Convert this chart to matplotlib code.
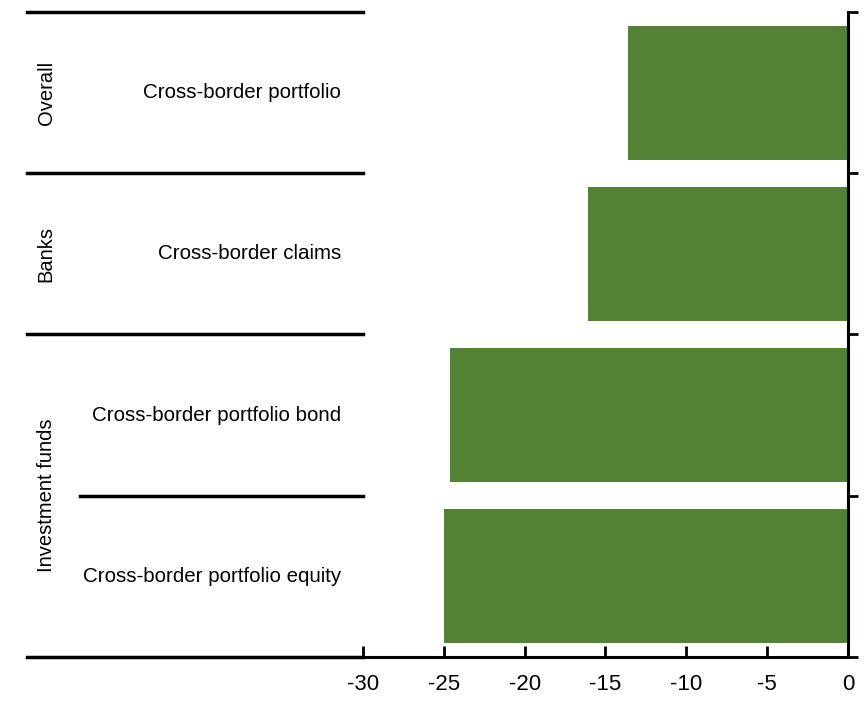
import matplotlib.pyplot as plt
import numpy as np

# data
groups = ["Overall", "Banks", "Investment funds"]
group_sizes = [1, 1, 2]
categories = [
    "Cross-border portfolio",
    "Cross-border claims",
    "Cross-border portfolio bond",
    "Cross-border portfolio equity",
]
values = [-13.6, -16.1, -24.6, -25.0]
xticks = [-30, -25, -20, -15, -10, -5, 0]

plt.rcParams["font.family"] = ["Liberation Sans", "DejaVu Sans"]

fig = plt.figure(figsize=(8.64, 7.04), dpi=100)
ax = fig.add_axes([0.420, 0.0668, 0.5615, 0.9162])

ypos = np.arange(len(categories)) + 0.5
ax.barh(ypos, values, height=0.83, color="#548235", zorder=2)

ax.set_xlim(-30, 0)
ax.set_ylim(len(categories), 0)

# only bottom and right (at x = 0) spines
for side in ["top", "left"]:
    ax.spines[side].set_visible(False)
ax.spines["bottom"].set_linewidth(2.2)
ax.spines["right"].set_linewidth(2.2)

ax.set_xticks(xticks)
ax.set_xticklabels([str(t) for t in xticks], fontsize=16)
ax.tick_params(axis="x", direction="in", length=8, width=2, pad=12)

ax.yaxis.tick_right()
ax.set_yticks(np.arange(len(categories) + 1))
ax.set_yticklabels([])
ax.tick_params(axis="y", direction="out", length=7, width=2)

# category labels on the left
for y, name in zip(ypos, categories):
    ax.text(-0.045, y, name, transform=ax.get_yaxis_transform(),
            ha="right", va="center", fontsize=14.8)

# separator lines and group labels
x_full = -0.692
x_sub = -0.583
trans = ax.get_yaxis_transform()
ax.plot([x_full, 0], [0, 0], transform=trans, color="black", lw=2.5, clip_on=False)
ax.plot([x_full, 0], [4, 4], transform=trans, color="black", lw=2.5, clip_on=False)
start = 0
for g, n in zip(groups, group_sizes):
    end = start + n
    if end < len(categories):
        ax.plot([x_full, 0], [end, end], transform=trans,
                color="black", lw=2.5, clip_on=False)
    for k in range(start + 1, end):
        ax.plot([x_sub, 0], [k, k], transform=trans,
                color="black", lw=2.5, clip_on=False)
    ax.text(-0.653, (start + end) / 2, g, transform=trans,
            ha="center", va="center", rotation=90, fontsize=14.5)
    start = end

fig.savefig("out.png", dpi=100)
